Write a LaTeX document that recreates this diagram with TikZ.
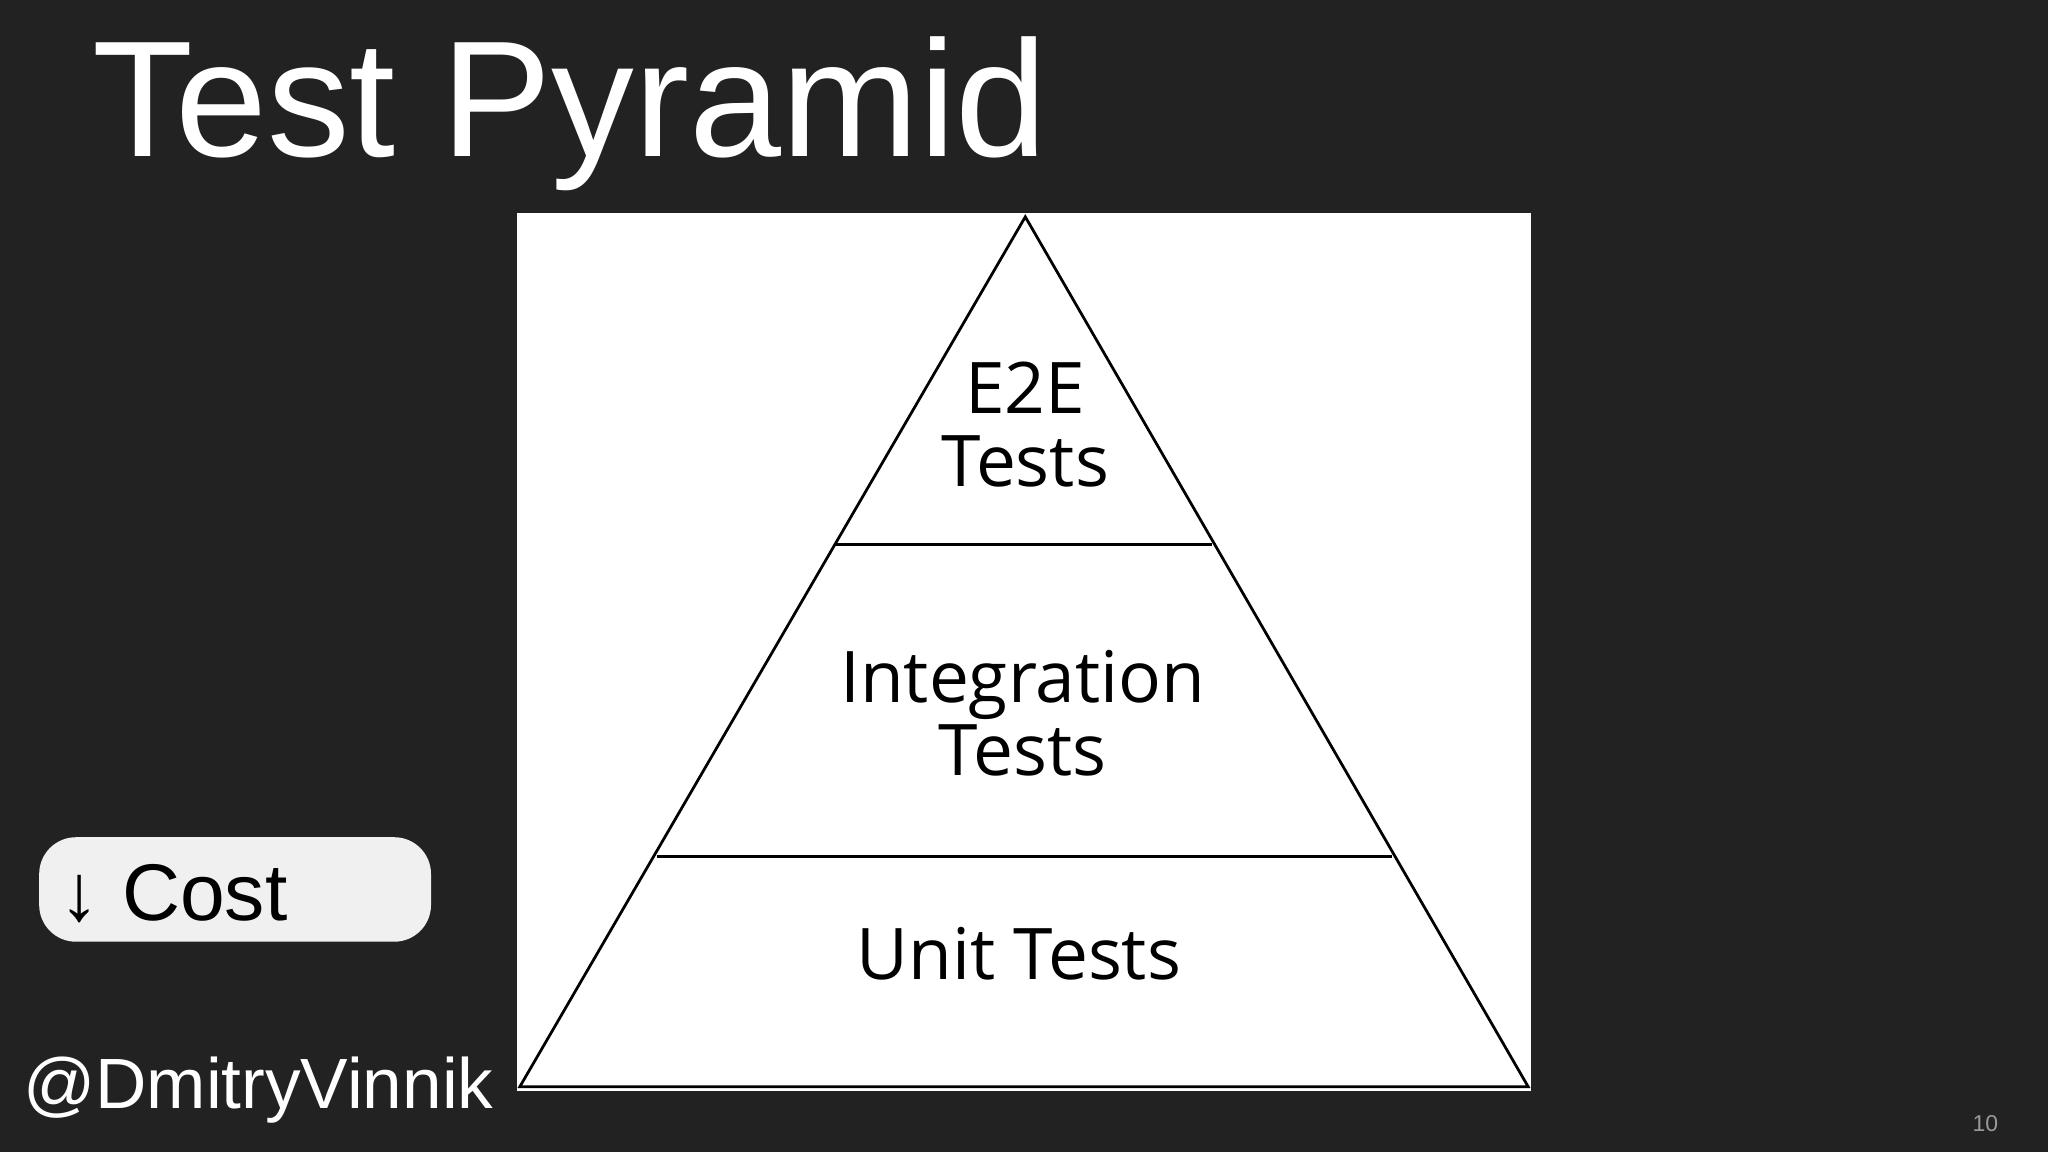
\documentclass[tikz,border=0pt]{standalone}
\usepackage{fontspec}
\setmainfont{Liberation Sans}
\newfontfamily\pyrfont{Open Sans}
\definecolor{bg}{HTML}{222222}
\definecolor{boxgray}{HTML}{F0F0F0}
\begin{document}
\begin{tikzpicture}[x=0.01cm,y=-0.01cm,
  lbl/.style={font=\pyrfont\fontsize{15.5pt}{18pt}\selectfont, text=black, align=center},
  edge/.style={draw=black, line width=0.6pt}]
\fill[bg] (0,0) rectangle (1568,882);
\useasboundingbox (0,0) rectangle (1568,882);
\node[anchor=base west, text=white, font=\fontsize{36pt}{40pt}\selectfont, inner sep=0] (title) at (70,120) {Test Pyramid};
\fill[white] (396,163) rectangle (1172,835);
\coordinate (apex) at (785,166);
\coordinate (bl) at (398,832);
\coordinate (br) at (1170,832);
\draw[edge] (apex) -- (bl) -- (br) -- cycle;
\coordinate (l1a) at (640,417); \coordinate (l1b) at (928,417);
\coordinate (l2a) at (503,656); \coordinate (l2b) at (1066,656);
\draw[edge] (l1a) -- (l1b);
\draw[edge] (l2a) -- (l2b);
\node[lbl] (e2e) at (785,325) {E2E\\[-2pt]Tests};
\node[lbl] (integ) at (783,546) {Integration\\[-2pt]Tests};
\node[lbl] (unit) at (780,730) {Unit Tests};
\draw[fill=boxgray, draw=none, rounded corners=8] (30,641) rectangle (330,721);
\node[anchor=base west, inner sep=0, font=\fontsize{17.5pt}{20pt}\selectfont] (cost) at (45,705) {↓ Cost};
\node[anchor=base west, inner sep=0, text=white, font=\fontsize{15.5pt}{18pt}\selectfont] (handle) at (17,849) {@DmitryVinnik};
\node[anchor=base, inner sep=0, text=gray!80, font=\fontsize{5pt}{6pt}\selectfont] (page) at (1520,866) {10};
\end{tikzpicture}
\end{document}
